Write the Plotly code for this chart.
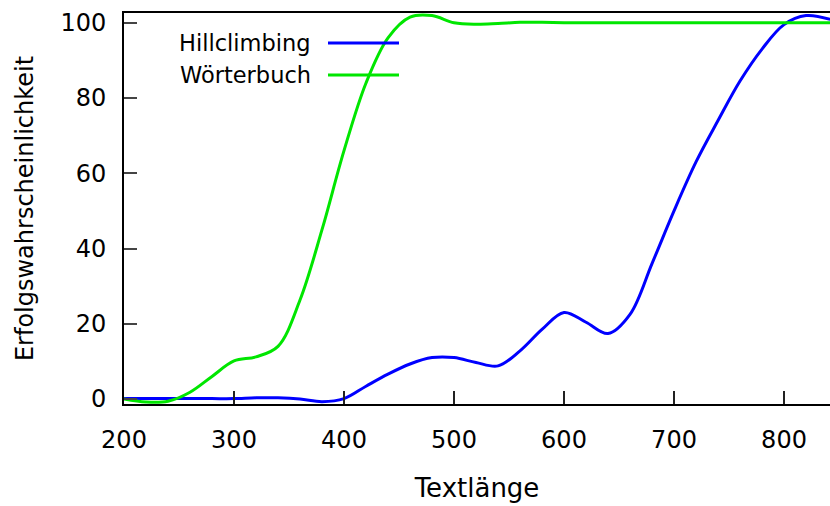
import plotly.graph_objects as go

# Text length (x) and success probability in percent for both attacks
text_length = [200, 220, 240, 260, 280, 300, 320, 340, 360, 380, 400, 420, 440,
               460, 480, 500, 520, 540, 560, 580, 600, 620, 640, 660, 680, 700,
               720, 740, 760, 780, 800, 820, 842]

hillclimbing = [0.1, 0.1, 0.1, 0.1, 0.1, 0.1, 0.3, 0.3, 0.0, -0.7, 0.1, 3.4, 6.6,
                9.3, 11.0, 11.0, 9.7, 8.8, 12.8, 18.5, 23.0, 20.4, 17.4, 22.5, 36.0,
                50.0, 63.0, 74.0, 84.5, 93.0, 99.5, 101.9, 100.9]

woerterbuch = [0.0, -0.8, -0.6, 1.8, 6.0, 10.1, 11.2, 14.0, 26.3, 45.0, 66.0, 84.0,
               96.0, 101.5, 101.9, 100.0, 99.6, 99.8, 100.1, 100.1, 100.0, 100.0,
               100.0, 100.0, 100.0, 100.0, 100.0, 100.0, 100.0, 100.0, 100.0, 100.0,
               100.0]

series_names = ["Hillclimbing", "Wörterbuch"]
series_colors = ["#0000ff", "#00e600"]

x_ticks = [200, 300, 400, 500, 600, 700, 800]
y_ticks = [0, 20, 40, 60, 80, 100]

FONT = "DejaVu Sans"

fig = go.Figure()
for name, vals, col in zip(series_names, [hillclimbing, woerterbuch], series_colors):
    fig.add_trace(go.Scatter(
        x=text_length, y=vals, name=name, mode="lines",
        line=dict(color=col, width=3, shape="spline", smoothing=1.0),
        showlegend=False,
    ))

# Key in the upper left: label text followed by a line sample
key_rows_y = [43, 75]
W, H = 830, 506
L, R, T, B = 124, 0, 13, 102
pw, ph = W - L - R, H - T - B
shapes = []
annotations = []
for name, col, ypx in zip(series_names, series_colors, key_rows_y):
    yp = (H - B - ypx) / ph
    x0 = (328 - L) / pw
    x1 = (399 - L) / pw
    shapes.append(dict(type="line", xref="paper", yref="paper",
                       x0=x0, x1=x1, y0=yp, y1=yp,
                       line=dict(color=col, width=3)))
    annotations.append(dict(xref="paper", yref="paper", x=(313 - L) / pw, y=yp,
                            text=name, showarrow=False, xanchor="right",
                            yanchor="middle", font=dict(family=FONT, size=22.5, color="black")))

fig.update_layout(
    width=W, height=H,
    margin=dict(l=L, r=R, t=T, b=B),
    paper_bgcolor="white", plot_bgcolor="white",
    font=dict(family=FONT, size=24, color="black"),
    shapes=shapes, annotations=annotations,
    xaxis=dict(
        range=[200, 841.8], tickvals=x_ticks, ticktext=[str(v) for v in x_ticks],
        showgrid=False, zeroline=False,
        showline=True, linecolor="black", linewidth=2, mirror=True,
        ticks="inside", ticklen=13, tickwidth=1.5, tickcolor="#222",
        ticklabelstandoff=13, tickfont=dict(size=24),
        title=dict(text="Textlänge", standoff=26, font=dict(size=26)),
    ),
    yaxis=dict(
        range=[-1.33, 102.59], tickvals=y_ticks, ticktext=[str(v) for v in y_ticks],
        showgrid=False, zeroline=False,
        showline=True, linecolor="black", linewidth=2, mirror=False,
        ticks="inside", ticklen=13, tickwidth=1.5, tickcolor="#444",
        ticklabelstandoff=11, tickfont=dict(size=24),
        title=dict(text="Erfolgswahrscheinlichkeit", standoff=20, font=dict(size=24)),
    ),
)

fig.write_html("out.html")
